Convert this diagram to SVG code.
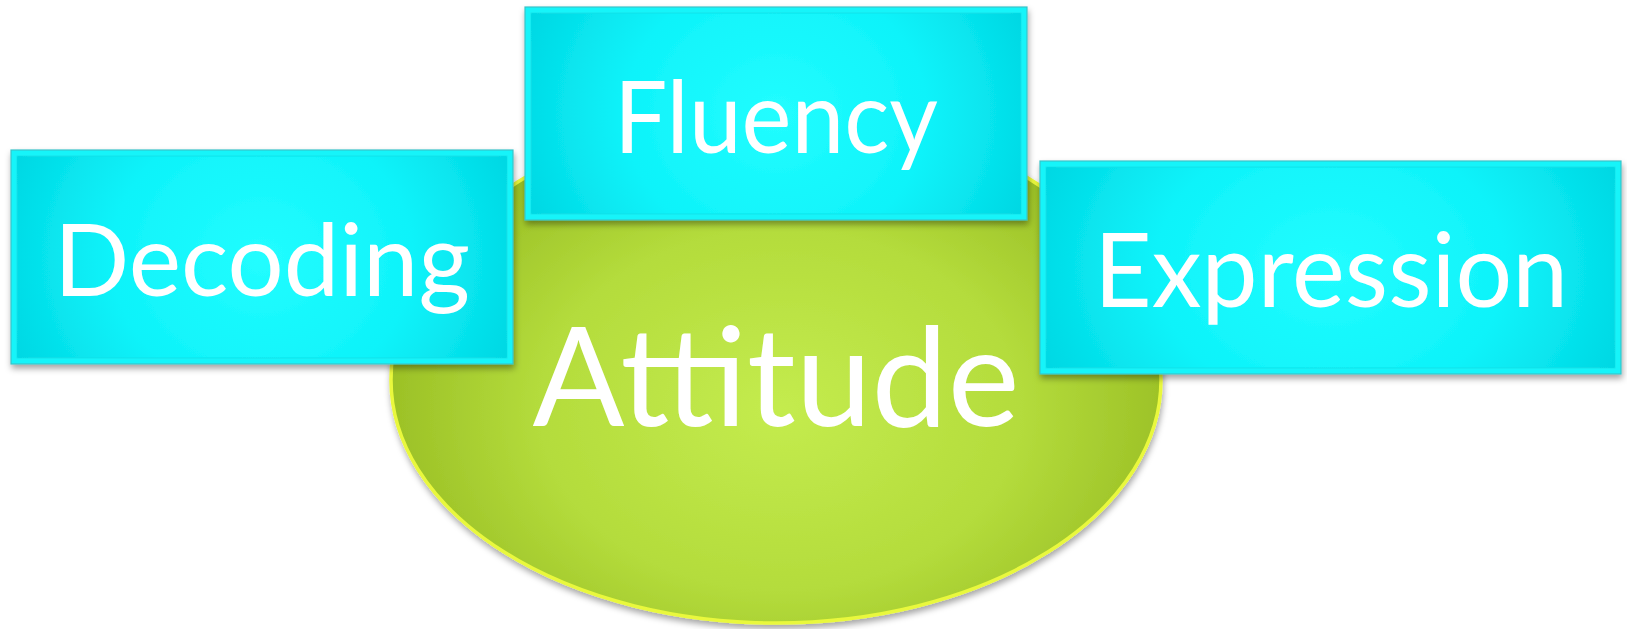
<svg xmlns="http://www.w3.org/2000/svg" width="1627" height="629" viewBox="0 0 1627 629">
  <defs>
    <!-- cyan fill for the rectangular nodes: bright centre, deeper teal towards the sides -->
    <radialGradient id="boxFill" cx="0.5" cy="0.5" r="0.56" gradientTransform="translate(0.5,0.5) scale(1,2.2) translate(-0.5,-0.5)">
      <stop offset="0" stop-color="#22fdff"/>
      <stop offset="0.55" stop-color="#0ef3fa"/>
      <stop offset="1" stop-color="#00d6e2"/>
    </radialGradient>
    <!-- lime fill for the central ellipse -->
    <radialGradient id="ovalFill" gradientUnits="userSpaceOnUse" cx="780" cy="410" r="400" gradientTransform="translate(780,410) scale(1,0.75) translate(-780,-410)">
      <stop offset="0" stop-color="#c4ec4e"/>
      <stop offset="0.6" stop-color="#b4dc3c"/>
      <stop offset="1" stop-color="#9abf25"/>
    </radialGradient>
    <filter id="shadow" x="-10%" y="-10%" width="120%" height="130%">
      <feDropShadow dx="1" dy="4" stdDeviation="3" flood-color="#000" flood-opacity="0.35"/>
    </filter>
  </defs>
  <style>
    .frame { fill: #16f4f9; stroke: #37c3c8; stroke-width: 1.2; }
    .panel { fill: url(#boxFill); stroke: #0fdfe6; stroke-width: 0.8; }
    .oval { fill: url(#ovalFill); stroke: #e9f83c; stroke-width: 3.5; }
    .label { font-family: Lato, "Open Sans", "Liberation Sans", sans-serif; fill: #ffffff; text-anchor: middle; }
  </style>

  <rect width="1627" height="629" fill="#ffffff"/>

  <!-- central ellipse, sitting behind the three boxes -->
  <g id="attitude">
    <path class="oval" filter="url(#shadow)" d="M 391,380 A 385 243 0 0 0 1161,380 A 385 267 0 0 0 391,380 Z"/>
    <text class="label" x="776" y="426" font-size="138" textLength="487" lengthAdjust="spacingAndGlyphs">Attitude</text>
  </g>

  <g id="connectors"/>

  <g id="decoding">
    <g filter="url(#shadow)">
      <rect class="frame" x="11" y="150" width="502" height="214"/>
      <rect class="panel" x="17" y="156" width="490" height="202"/>
    </g>
    <text class="label" x="262" y="296" font-size="101" textLength="416" lengthAdjust="spacingAndGlyphs">Decoding</text>
  </g>

  <g id="fluency">
    <g filter="url(#shadow)">
      <rect class="frame" x="525" y="7" width="502" height="213"/>
      <rect class="panel" x="531" y="13" width="490" height="201"/>
    </g>
    <text class="label" x="776" y="153" font-size="101" textLength="324" lengthAdjust="spacingAndGlyphs">Fluency</text>
  </g>

  <g id="expression">
    <g filter="url(#shadow)">
      <rect class="frame" x="1040" y="161" width="581" height="213"/>
      <rect class="panel" x="1046" y="167" width="569" height="201"/>
    </g>
    <text class="label" x="1331" y="307" font-size="102" textLength="474" lengthAdjust="spacingAndGlyphs">Expression</text>
  </g>
</svg>
